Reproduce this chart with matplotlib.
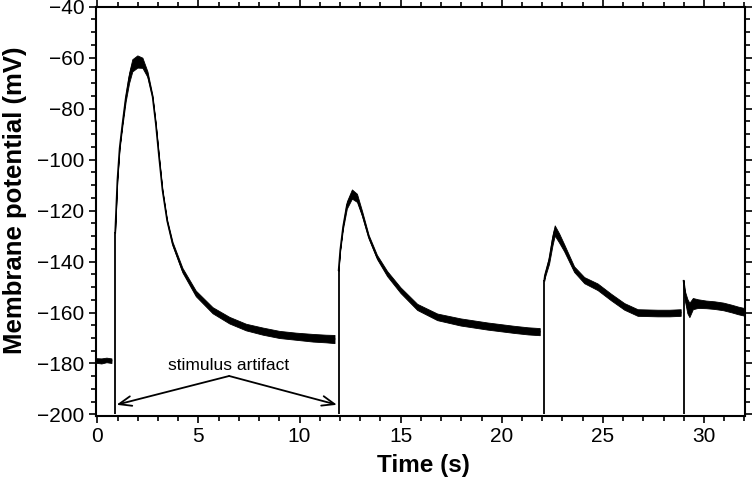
import matplotlib
matplotlib.use("Agg")
import matplotlib.pyplot as plt
from matplotlib.ticker import MultipleLocator

plt.rcParams['font.family'] = ['Liberation Sans', 'DejaVu Sans']

# ---- data (time s, membrane potential mV, noise half-width mV) ----
base_t = [-0.08, 0.2, 0.45, 0.7]
base_v = [-178.8, -179.0, -178.6, -178.9]
base_w = [0.9, 1.0, 0.9, 0.9]

ev1_t = [0.88, 0.99, 1.10, 1.24, 1.40, 1.57, 1.73, 1.98, 2.23, 2.48, 2.73, 2.89,
         3.05, 3.22, 3.45, 3.72, 4.21, 4.87, 5.70, 6.53, 7.35, 8.18, 9.00, 9.83,
         10.66, 11.30, 11.73]
ev1_v = [-128.5, -108.0, -95.5, -86.0, -76.0, -68.0, -63.0, -61.5, -62.0, -66.5,
         -75.3, -86.0, -99.0, -112.0, -124.0, -133.0, -143.4, -152.5, -159.1,
         -163.0, -165.7, -167.3, -168.6, -169.3, -169.9, -170.2, -170.4]
ev1_w = [0.3, 0.3, 0.4, 0.8, 1.3, 2.0, 2.4, 2.4, 2.0, 1.1, 0.5, 0.4,
         0.4, 0.4, 0.5, 0.7, 0.9, 1.1, 1.2, 1.3, 1.3, 1.4, 1.4, 1.4,
         1.5, 1.5, 1.6]

ev2_t = [11.93, 12.01, 12.15, 12.34, 12.59, 12.84, 13.09, 13.42, 13.83, 14.33,
         14.99, 15.82, 16.81, 17.96, 19.29, 20.60, 21.30, 21.88]
ev2_v = [-143.4, -135.5, -126.4, -117.8, -113.5, -115.0, -121.1, -130.3, -138.2,
         -144.7, -151.2, -157.8, -161.7, -163.7, -165.3, -166.6, -167.2, -167.5]
ev2_w = [0.3, 0.4, 0.7, 1.4, 1.8, 1.6, 1.0, 0.7, 0.8, 1.0, 1.1, 1.2, 1.3, 1.4,
         1.4, 1.4, 1.4, 1.4]

ev3_t = [22.10, 22.13, 22.34, 22.51, 22.62, 22.84, 23.08, 23.58, 24.08, 24.74,
         25.40, 26.06, 26.72, 27.71, 28.30, 28.85]
ev3_v = [-147.3, -145.5, -139.5, -131.6, -127.8, -130.8, -134.5, -143.0, -147.3,
         -149.9, -153.9, -157.6, -160.0, -160.2, -160.2, -160.0]
ev3_w = [0.3, 0.8, 1.4, 2.0, 2.0, 1.8, 1.4, 1.1, 1.2, 1.3, 1.3, 1.3, 1.3, 1.3,
         1.3, 1.3]

ev4_t = [28.99, 29.07, 29.18, 29.28, 29.45, 29.70, 30.10, 30.52, 30.95, 31.35,
         31.70, 32.03]
ev4_v = [-147.5, -153.9, -157.5, -159.0, -156.5, -156.5, -156.8, -157.1, -157.6,
         -158.4, -159.2, -159.8]
ev4_w = [0.3, 2.0, 2.8, 2.8, 2.2, 1.7, 1.5, 1.5, 1.5, 1.5, 1.5, 1.5]

# stimulus artifacts: time, bottom, top
art_t = [0.88, 11.93, 22.10, 28.99]
art_top = [-128.5, -143.4, -147.3, -147.5]
art_bottom = -200.0

# annotation
label_text = "stimulus artifact"
label_xy = (6.5, -180.7)
apex_xy = (6.52, -184.9)
arrow_tips = [(0.95, -196.2), (11.85, -196.2)]

fig = plt.figure(figsize=(7.52, 4.78), dpi=100)
ax = fig.add_axes([95.7 / 752, 1 - 416 / 478, (745 - 95.7) / 752, (416 - 6.7) / 478])

segments = [(base_t, base_v, base_w), (ev1_t, ev1_v, ev1_w), (ev2_t, ev2_v, ev2_w),
            (ev3_t, ev3_v, ev3_w), (ev4_t, ev4_v, ev4_w)]
for t, v, w in segments:
    lo = [a - b for a, b in zip(v, w)]
    hi = [a + b for a, b in zip(v, w)]
    ax.fill_between(t, lo, hi, color='black', linewidth=0.6, edgecolor='black')
    ax.plot(t, v, color='black', linewidth=1.1)

for t, top in zip(art_t, art_top):
    ax.plot([t, t], [art_bottom, top], color='black', linewidth=1.3, solid_capstyle='butt')

ax.text(label_xy[0], label_xy[1], label_text, ha='center', va='center', fontsize=12.5)
for tip in arrow_tips:
    ax.annotate('', xy=tip, xytext=apex_xy,
                arrowprops=dict(arrowstyle='->,head_length=0.9,head_width=0.35',
                                color='black', linewidth=1.3, shrinkA=0, shrinkB=0))

ax.set_xlim(-0.08, 32.03)
ax.set_ylim(-200.6, -40)
ax.xaxis.set_major_locator(MultipleLocator(5))
ax.xaxis.set_minor_locator(MultipleLocator(1))
ax.yaxis.set_major_locator(MultipleLocator(20))
ax.yaxis.set_minor_locator(MultipleLocator(5))
ax.tick_params(which='both', direction='out', top=True, right=True, width=1.2,
               labelsize=15, labeltop=False, labelright=False)
ax.tick_params(which='major', length=5, pad=3)
ax.tick_params(which='minor', length=3.5)
for s in ax.spines.values():
    s.set_linewidth(1.5)

ax.set_xlabel('Time (s)', fontsize=17.5, fontweight='bold')
ax.set_ylabel('Membrane potential (mV)', fontsize=18.5, fontweight='bold')
ax.xaxis.set_label_coords(0.505, -0.092)
ax.yaxis.set_label_coords(-0.106, 0.528)

fig.savefig('out.png', dpi=100)
